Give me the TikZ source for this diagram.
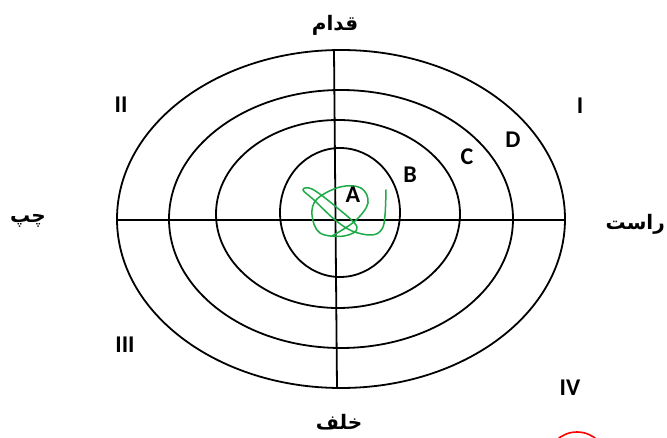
\documentclass[tikz,border=0pt]{standalone}
\usepackage{fontspec}
\setmainfont{Carlito}
\newfontfamily\arabicfont[Script=Arabic]{DejaVu Sans}
\TeXXeTstate=1
\begin{document}
\begin{tikzpicture}[x=1pt,y=-1pt,
  ring/.style={draw=black,line width=1.8pt},
  axis/.style={draw=black,line width=1.8pt},
  lat/.style={font=\fontsize{24}{26}\selectfont\bfseries,inner sep=0pt},
  ara/.style={font=\arabicfont\fontsize{20}{24}\selectfont\bfseries,inner sep=0pt},
  scrib/.style={draw={rgb,255:red,30;green,170;blue,70},line width=1.5pt,line join=round,line cap=round}]
\useasboundingbox (0,0) rectangle (667,438);
\fill[white] (0,0) rectangle (667,438);
% rings
\draw[ring] (341,219) ellipse [x radius=224,y radius=169];
\draw[ring] (341,219) ellipse [x radius=172,y radius=129];
\draw[ring] (338,214) ellipse [x radius=122,y radius=94];
\draw[ring] (340,212.5) ellipse [x radius=60,y radius=64.5];
% axes
\coordinate (top) at (334,50);
\coordinate (bot) at (337,388);
\coordinate (lft) at (117,220);
\coordinate (rgt) at (565,220);
\draw[axis] (top) -- (bot);
\draw[axis] (lft) -- (rgt);
% scribble
\draw[scrib] plot[smooth,tension=0.6] coordinates {
 (386,190) (385,215) (382,229) (372,235) (352,231) (334,219) (314,200) (303,190)
 (312,189) (335,206) (357,227) (344,236) (320,233) (312,215) (317,199) (340,187)
 (361,188) (368,203) (355,221) (332,236)};
% labels
\node[ara] (front) at (335,25) {\beginR قدام\endR};
\node[ara] (back) at (339,422) {\beginR خلف\endR};
\node[ara] (left) at (28,221) {\beginR چپ\endR};
\node[ara,anchor=east] (right) at (665,224) {\beginR راست\endR};
\node[lat] (q2) at (121,105) {II};
\node[lat] (q1) at (580,106) {I};
\node[lat] (q3) at (125,345) {III};
\node[lat] (q4) at (570,388) {IV};
\node[lat] (la) at (353,195) {A};
\node[lat] (lb) at (410,175) {B};
\node[lat] (lc) at (467,157) {C};
\node[lat] (ld) at (513,140) {D};
% red arc
\begin{scope}
\clip (0,0) rectangle (667,438);
\draw[red,line width=1.6pt] (577,462) circle [radius=30];
\end{scope}
\end{tikzpicture}
\end{document}
